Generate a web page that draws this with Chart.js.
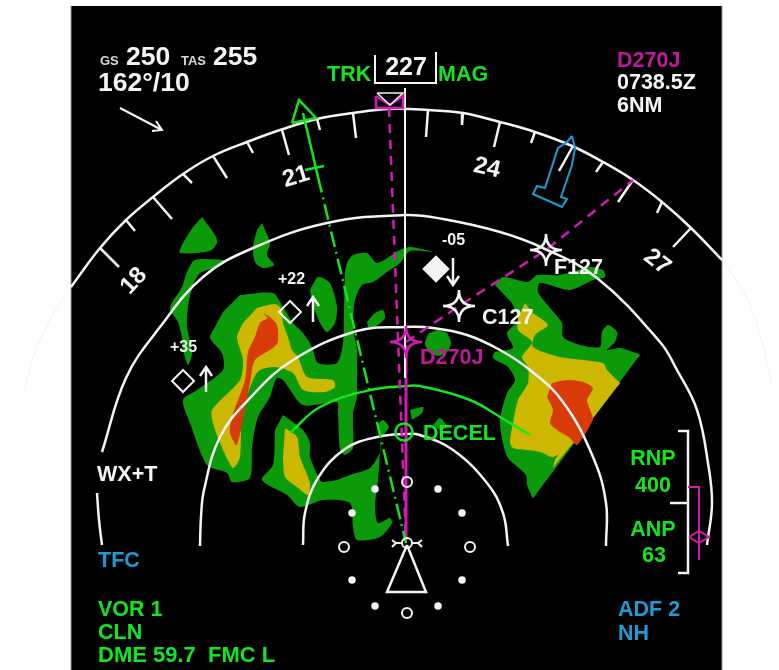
<!DOCTYPE html>
<html>
<head>
<meta charset="utf-8">
<title>Navigation display</title>
<script src="https://cdn.jsdelivr.net/npm/chart.js@4/dist/chart.umd.min.js"></script>
<style>
	html, body { margin: 0; background: #fff; }
	canvas { display: block; filter: blur(0.5px); }
</style>
</head>
<body>
<canvas id="nd" width="779" height="670"></canvas>
<script>
// everything in display units: x across, y down
const compassRing = [[71,287],[100,248],[126,220],[153,197],[183,174],[213,156],[247,142],[283,129],[317,119],[353,113],[390,109],[428,110],[463,113],[500,122],[535,132],[572,146],[603,162],[633,180],[662,202],[691,228],[722,260]];
const compassFaintLeft = [[71,287],[52,316],[36,350],[24,392]];
const compassFaintRight = [[722,260],[745,295],[760,335],[772,385]];
const ringOuterFoot = [[102,545],[99,520],[97,493]];
const ringOuter = [[102,452],[126,378],[160,327],[203,277],[253,248],[327,223],[405,215],[443,219],[500,232],[543,248],[597,278],[660,342],[677,370],[697,410],[708,463],[712,503],[707,545]];
const ringMiddle = [[200,546],[201,517],[204,490],[220,437],[250,398],[293,360],[357,331],[405,327],[433,328],[467,335],[500,350],[530,370],[563,402],[593,457],[606,503],[606,546]];
const ringInner = [[303,545],[305,513],[318,478],[345,449],[377,437],[406,434],[420,435],[453,450],[487,483],[503,513],[508,546]];
const decelArc = [[290,433],[320,407],[370,390],[407,386],[420,386],[470,400],[505,420],[530,435]];

const compassLongTicks = [[[100,248],[119,267]],[[153,197],[172,219]],[[213,156],[227,178]],[[282,130],[289,155]],[[353,113],[356,138]],[[428,110],[426,137]],[[500,122],[494,147]],[[573,146],[559,171]],[[633,180],[618,202]],[[691,228],[673,247]]];
const compassShortTicks = [[[126,220],[135,231]],[[183,174],[192,183]],[[247,142],[253,153]],[[317,119],[320,130]],[[463,113],[462,125]],[[535,132],[531,143]],[[603,162],[596,172]],[[662,202],[657,213]]];

const wxGreenA = [[202,217],[215,235],[217,243],[210,251],[180,253],[182,245],[193,227]];
const wxGreenB = [[262,223],[270,243],[267,255],[274,265],[263,268],[255,262],[253,247],[257,230]];
const wxGreenC = [[225,260],[195,260],[187,272],[182,287],[170,308],[178,322],[183,342],[182,345],[188,365],[192,353],[187,327],[188,307],[193,285],[200,273],[215,268]];
const wxGreenD = [[310,290],[318,277],[330,283],[337,307],[335,323],[327,332],[320,323],[312,303]];
const wxGreenE = [[367,322],[375,313],[383,310],[385,318],[375,327],[368,327]];
const wxGreenMain = [[240,295],[273,293],[283,307],[293,323],[303,333],[312,347],[318,363],[337,363],[343,343],[344,310],[345,273],[347,263],[353,255],[367,253],[377,263],[400,250],[410,247],[433,252],[410,251],[400,263],[387,272],[373,282],[362,285],[355,300],[353,327],[357,350],[357,380],[357,397],[353,413],[353,448],[345,455],[340,450],[338,413],[337,402],[303,405],[283,380],[277,378],[273,387],[270,397],[258,417],[252,447],[250,478],[232,482],[227,473],[207,465],[190,423],[183,400],[197,390],[223,370],[222,353],[210,338],[215,327],[223,312]];
const wxYellowMain = [[257,308],[275,304],[282,310],[283,323],[288,337],[292,350],[298,357],[307,377],[333,380],[335,387],[325,392],[303,390],[293,373],[275,367],[260,370],[253,380],[242,413],[240,457],[233,468],[220,443],[213,423],[212,410],[240,380],[243,360],[237,337],[243,323]];
const wxRedMain = [[263,313],[270,317],[277,325],[278,342],[273,348],[255,360],[250,383],[237,445],[230,433],[232,417],[245,380],[248,352],[255,337],[260,323],[268,318]];
const wxGreenLower = [[283,415],[303,430],[310,443],[310,457],[320,480],[323,482],[337,480],[350,475],[370,468],[380,452],[381,437],[378,425],[383,420],[389,427],[385,433],[381,440],[380,452],[378,480],[375,507],[378,523],[390,518],[392,523],[380,537],[357,540],[353,527],[350,503],[323,500],[300,507],[287,495],[262,480],[273,465],[275,430]];
const wxYellowLower = [[285,428],[297,437],[300,457],[310,483],[308,495],[297,487],[285,477],[283,457]];
const wxGreenDot = [[438,330],[447,333],[451,343],[447,352],[438,356],[429,352],[425,343],[429,333]];
const wxGreenBit1 = [[410,410],[423,407],[422,413],[412,420]];
const wxGreenBit2 = [[433,425],[440,418],[447,427],[440,430]];
const wxGreenRight = [[495,285],[503,277],[528,282],[537,275],[560,275],[590,267],[603,270],[605,277],[593,280],[570,290],[540,283],[538,292],[550,308],[562,323],[563,337],[580,345],[600,347],[602,332],[608,325],[617,332],[615,342],[607,350],[620,348],[636,353],[640,355],[637,359],[587,426],[537,493],[533,498],[530,492],[527,485],[526,475],[508,458],[503,443],[500,420],[507,393],[515,380],[508,367],[493,358],[495,352],[513,348],[507,333],[518,320],[512,303]];
const wxYellowRight = [[525,303],[533,313],[548,325],[535,335],[533,347],[560,357],[603,363],[607,370],[617,380],[620,383],[617,387],[587,426],[556,464],[553,468],[555,460],[558,455],[552,457],[540,452],[527,450],[513,448],[510,442],[513,423],[518,400],[528,383],[528,367],[522,357],[532,342],[518,330],[518,317]];
const wxRedRight = [[552,383],[567,380],[583,382],[593,388],[587,400],[592,415],[593,420],[577,445],[570,438],[557,430],[550,423],[553,410],[547,397]];

const trackUpper = [[303,113],[318,177]];
const trackLower = [[318,177],[406,543]];
const trackArrow = [[292,123],[299,100],[316,118],[292,123]];
const trackBar = [[305,170],[324,166]];
const routeToBug = [[389,108],[406,543]];
const routeLeg = [[406,342],[459,306],[546,250],[633,180]];
const lubberLine = [[405,88],[405,378]];
const activeLeg = [[406,345],[406,540]];

const selectBracket = [[375,55],[375,83],[436,83],[436,52]];
const bugWhite = [[377,93],[403,93],[390,105],[377,93]];
const bugMagenta = [[376,96],[376,108],[403,108],[403,96],[390,105],[376,96]];
const windArrow = [[[120,108],[162,130]],[[152,131],[162,130],[156,121]]];
const trafficBlue = [[572,136],[575,148],[572,165],[561,197],[567,199],[562,207],[533,194],[537,186],[545,188],[558,148],[567,142],[572,136]];
const aircraftSymbol = [[407,545],[426,592],[387,592],[407,545]];
const aircraftWings = [[[392,540],[396,543],[392,547]],[[396,543],[402,543]],[[422,540],[418,543],[422,547]],[[412,543],[418,543]]];

const rnpScale = [[[678,431],[688,431],[688,573],[678,573]],[[670,503],[688,503]]];
const anpPointer = [[[688,487],[699,487],[699,560]],[[689,537],[699,531],[709,537],[699,543],[689,537]]];

const trafficUpArrows = [[[206,392],[206,367]],[[200,376],[206,367],[212,376]],[[313,322],[313,297]],[[307,306],[313,297],[319,306]]];
const trafficDownArrow = [[[453,258],[453,285]],[[447,276],[453,285],[459,276]]];
const trafficOpen = [[183,381],[290,312]];
const trafficSolid = [[436,269]];
const rangeDots = [[375,489],[438,489],[352,513],[462,513],[352,580],[462,580],[375,606],[438,606]];
const rangeCircles = [[407,482],[344,547],[470,547],[407,613],[407,543]];
const decelPoint = [[404,432]];
const whiteFixes = [[459,306],[546,250]];
const magentaFixes = [[406,342]];

const WHITE = '#f4f4f4', GREEN = '#14e61e', MAGENTA = '#d21bb4', MAG_TEXT = '#c01a9c', BLUE = '#1e9ad6';
const WX_GREEN = '#0a9a0a', WX_YELLOW = '#ccb800', WX_RED = '#d83a08';
const BOLD = '"Liberation Sans", Arial, sans-serif';

// text, x, y, size, colour, rotation in degrees, alignment
const displayTexts = [
	['GS', 100, 61, 13, '#d8d8d8'],
	['250', 126, 58, 26.5, WHITE],
	['TAS', 181, 61, 13, '#d8d8d8'],
	['255', 213, 58, 26.5, WHITE],
	['162°/10', 98, 84, 26.5, WHITE],
	['TRK', 327, 75, 21.5, GREEN],
	['227', 406, 68, 25, WHITE, 0, 'center'],
	['MAG', 438, 75, 21.5, GREEN],
	['D270J', 617, 61, 21.5, MAG_TEXT],
	['0738.5Z', 617, 83, 21.5, WHITE],
	['6NM', 617, 106, 21.5, WHITE],
	['18', 134, 281, 24, WHITE, -47, 'center'],
	['21', 296, 177, 24, WHITE, -17, 'center'],
	['24', 487, 168, 24, WHITE, 13, 'center'],
	['27', 657, 262, 24, WHITE, 38, 'center'],
	['+35', 170, 348, 16, WHITE],
	['+22', 278, 280, 16, WHITE],
	['-05', 442, 241, 16, WHITE],
	['F127', 554, 268, 21.5, WHITE],
	['C127', 482, 318, 21.5, WHITE],
	['D270J', 420, 358, 21.5, MAG_TEXT],
	['DECEL', 423, 434, 21.5, GREEN],
	['WX+T', 97, 475, 21.5, WHITE],
	['TFC', 98, 561, 21.5, BLUE],
	['VOR 1', 98, 610, 21.5, GREEN],
	['CLN', 98, 633, 21.5, GREEN],
	['DME 59.7  FMC L', 98, 656, 22, GREEN],
	['ADF 2', 618, 610, 21.5, BLUE],
	['NH', 618, 634, 21.5, BLUE],
	['RNP', 653, 459, 21.5, GREEN, 0, 'center'],
	['400', 653, 486, 21.5, GREEN, 0, 'center'],
	['ANP', 653, 530, 21.5, GREEN, 0, 'center'],
	['63', 654, 556, 21.5, GREEN, 0, 'center']
];

const toXY = (list) => list.map(p => ({x: p[0], y: p[1]}));
const joinParts = (parts) => parts.flatMap(part => [...toXY(part), {x: NaN, y: NaN}]);

const fixStar = (colour, arm) => {
	const size = arm * 2 + 6, mid = size / 2, canvas = document.createElement('canvas');
	canvas.width = canvas.height = size;
	const ctx = canvas.getContext('2d');
	ctx.strokeStyle = colour;
	ctx.lineWidth = 2.5;
	ctx.beginPath();
	ctx.moveTo(mid, mid - arm);
	ctx.quadraticCurveTo(mid, mid, mid + arm, mid);
	ctx.quadraticCurveTo(mid, mid, mid, mid + arm);
	ctx.quadraticCurveTo(mid, mid, mid - arm, mid);
	ctx.quadraticCurveTo(mid, mid, mid, mid - arm);
	ctx.stroke();
	return canvas;
};

const datasets = [];
const add = (data, opts) => datasets.push({data, showLine: true, pointRadius: 0, borderWidth: 2.5, borderColor: WHITE, spanGaps: false, tension: 0, ...opts});
const cell = (list, colour) => add(toXY(list), {fill: 'shape', backgroundColor: colour, borderWidth: 0, borderColor: colour, tension: 0.25});
const marks = (list, opts) => add(toXY(list), {showLine: false, ...opts});

[wxGreenA, wxGreenB, wxGreenC, wxGreenD, wxGreenE, wxGreenMain, wxGreenLower, wxGreenDot, wxGreenBit1, wxGreenBit2, wxGreenRight].forEach(c => cell(c, WX_GREEN));
[wxYellowMain, wxYellowLower, wxYellowRight].forEach(c => cell(c, WX_YELLOW));
[wxRedMain, wxRedRight].forEach(c => cell(c, WX_RED));

add(toXY(compassFaintLeft), {borderColor: '#f1f1f1', borderWidth: 1, tension: 0.4});
add(toXY(compassFaintRight), {borderColor: '#f1f1f1', borderWidth: 1, tension: 0.4});
add(toXY(compassRing), {tension: 0.4});
[ringOuterFoot, ringOuter, ringMiddle, ringInner].forEach(r => add(toXY(r), {tension: 0.4}));
add(joinParts(compassLongTicks));
add(joinParts(compassShortTicks));
add(toXY(decelArc), {borderColor: GREEN, tension: 0.4});

add(toXY(activeLeg), {borderColor: MAGENTA, borderWidth: 3});
add(toXY(lubberLine), {borderWidth: 2});
add(toXY(routeToBug), {borderColor: MAGENTA, borderWidth: 2.5, borderDash: [9, 7]});
add(toXY(routeLeg), {borderColor: MAGENTA, borderWidth: 2.5, borderDash: [10, 7]});
add(toXY(trackUpper), {borderColor: GREEN});
add(toXY(trackLower), {borderColor: GREEN, borderDash: [16, 5, 2, 5]});
add(toXY(trackArrow), {borderColor: GREEN});
add(toXY(trackBar), {borderColor: GREEN});

add(toXY(selectBracket), {borderWidth: 2});
add(toXY(bugMagenta), {borderColor: MAGENTA});
add(toXY(bugWhite), {borderWidth: 1.5});
add(joinParts(windArrow), {borderWidth: 2});
add(toXY(trafficBlue), {borderColor: BLUE, borderWidth: 2});
add(toXY(aircraftSymbol));
add(joinParts(aircraftWings), {borderWidth: 2});
add(joinParts(rnpScale));
add(joinParts(anpPointer), {borderColor: MAGENTA, borderWidth: 2});
add(joinParts(trafficUpArrows));
add(joinParts(trafficDownArrow));

marks(trafficOpen, {pointStyle: 'rectRot', pointRadius: 11, pointBackgroundColor: 'rgba(0,0,0,0)', pointBorderColor: WHITE, pointBorderWidth: 2});
marks(trafficSolid, {pointStyle: 'rectRot', pointRadius: 12, pointBackgroundColor: WHITE, pointBorderColor: WHITE});
marks(rangeDots, {pointRadius: 2.5, pointBackgroundColor: WHITE, pointBorderColor: WHITE});
marks(rangeCircles, {pointRadius: 5, pointBackgroundColor: 'rgba(0,0,0,0)', pointBorderColor: WHITE, pointBorderWidth: 2});
marks(decelPoint, {pointRadius: 8.5, pointBackgroundColor: 'rgba(0,0,0,0)', pointBorderColor: GREEN, pointBorderWidth: 2.5});
marks(whiteFixes, {pointStyle: fixStar(WHITE, 16), pointRadius: 16});
marks(magentaFixes, {pointStyle: fixStar(MAGENTA, 16), pointRadius: 16});

datasets.forEach((ds, i) => { ds.order = datasets.length - i; });

const displayPanel = {
	id: 'displayPanel',
	beforeDatasetsDraw(chart) {
		const {ctx, scales: {x, y}} = chart;
		const left = x.getPixelForValue(71), right = x.getPixelForValue(722);
		const top = y.getPixelForValue(6), bottom = y.getPixelForValue(670);
		ctx.save();
		ctx.fillStyle = '#000';
		ctx.fillRect(left, top, right - left, bottom - top);
		ctx.strokeStyle = '#9a9a9a';
		ctx.lineWidth = 1;
		ctx.beginPath();
		ctx.moveTo(left, top);
		ctx.lineTo(left, bottom);
		ctx.moveTo(right, top);
		ctx.lineTo(right, bottom);
		ctx.stroke();
		ctx.restore();
	}
};

const displayLabels = {
	id: 'displayLabels',
	afterDatasetsDraw(chart) {
		const {ctx, scales: {x, y}} = chart;
		displayTexts.forEach(([text, px, py, size, colour, rot, align]) => {
			ctx.save();
			ctx.translate(x.getPixelForValue(px), y.getPixelForValue(py));
			ctx.rotate((rot || 0) * Math.PI / 180);
			ctx.font = `bold ${size}px ${BOLD}`;
			ctx.fillStyle = colour;
			ctx.textAlign = align || 'left';
			ctx.textBaseline = 'middle';
			ctx.fillText(text, 0, 0);
			ctx.restore();
		});
	}
};

new Chart(document.getElementById('nd'), {
	type: 'scatter',
	data: {datasets},
	options: {
		responsive: false,
		animation: false,
		layout: {padding: 0, autoPadding: false},
		plugins: {legend: {display: false}, tooltip: {enabled: false}},
		scales: {
			x: {type: 'linear', min: 0, max: 779, display: false},
			y: {type: 'linear', min: 0, max: 670, reverse: true, display: false}
		}
	},
	plugins: [displayPanel, displayLabels]
});
</script>
</body>
</html>
